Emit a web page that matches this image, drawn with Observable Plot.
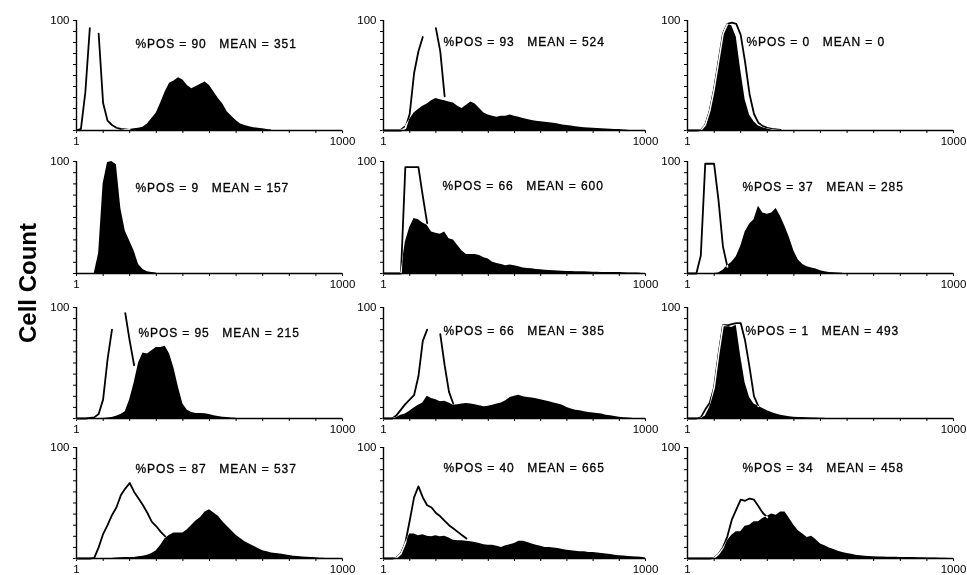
<!DOCTYPE html>
<html><head><meta charset="utf-8">
<script src="https://cdn.jsdelivr.net/npm/d3@7"></script>
<script src="https://cdn.jsdelivr.net/npm/@observablehq/plot@0.6"></script>
<style>
body{margin:0;background:#fff}
#c{position:relative;width:967px;height:575px;overflow:hidden;font-family:"Liberation Sans",Arial,sans-serif;background:#fff}
#c svg{position:absolute}
#ylab{position:absolute;left:28px;top:283px;transform:translate(-50%,-50%) rotate(-90deg);font-weight:bold;font-size:24px;white-space:nowrap;color:#000}
</style></head><body><div id="c"><div id="ylab">Cell Count</div></div>
<script>
// log-intensity bin centres (0.05-decade channels, 1 … 1000)
const bins = [1,1.122,1.259,1.413,1.585,1.778,1.995,2.239,2.512,2.818,3.162,3.548,3.981,4.467,5.012,5.623,6.31,7.079,7.943,8.913,
  10,11.22,12.59,14.13,15.85,17.78,19.95,22.39,25.12,28.18,31.62,35.48,39.81,44.67,50.12,56.23,63.1,70.79,79.43,89.13,
  100,112.2,125.9,141.3,158.5,177.8,199.5,223.9,251.2,281.8,316.2,354.8,398.1,446.7,501.2,562.3,631,707.9,794.3,891.3,1000];
const xTicks = [1,2,3.981,7.943,15.85,31.62,63.1,125.9,251.2,501.2,1000];
const yTicks = [0,10,20,30,40,50,60,70,80,90,100];
const posValues = ["90","93","0","9","66","37","95","66","1","87","40","34"];
const meanValues = ["351","524","0","157","600","285","215","385","493","537","665","458"];

// filled (black) histograms, cell count per bin
const fill1 = [0,0,0,0,0,0,0,0,0,0,0,1,1,1.5,2,3,6,11,16,25,35,43,45,48,46,41,38,40,42,44,41,35,29,24,17,13,9,6,4.5,3.5,2.5,2,1.5,1,0.5];
const fill2 = [0,0,0,0.3,1,4,10,16,19,22,24,27,29,28,27,26,25,22,20,23,26,24,20,16,14,13,12,13,13,14,13,12,11,10,9,8.5,8,7.5,7,6.5,6,5,4.5,4,3.5,3,2.5,2.2,2,1.8,1.5,1.4,1.2,1,0.8,0.5,0.3];
const fill3 = [0,0,0,0.3,5,18,38,63,88,97,95,85,55,28,14,8,4,2.5,1.5,1,0.5,0.3];
const fill4 = [0,0,0,0,0,18,80,99,100,97,58,38,29,20,8,3.5,1.5,1,0.5];
const fill5 = [0,0,0,0,1,28,41,49,48,45,43,37,36,35,37,31,30,25,20,17,17,17,16,14,13,10,9,8,7,7.5,7,6,5,4.5,4.2,3.5,3.3,3,2.7,2.4,2.2,2,1.8,1.8,1.6,1.5,1.5,1.4,1.2,1.1,1,1,0.9,0.8,0.8,0.6,0.5,0.5,0.4,0.2];
const fill6 = [0,0,0,0,0,0,0,0.5,3,7,10,15,24,37,44,48,60,54,53,54,58,51,42,32,20,12,8,6,5,4,2.4,1.5,1,0.7,0.5,0.3];
const fill7 = [0,0,0,0,0,0,0,0.5,1,2,3.5,6,17,32,50,59,58,61,64,64,65,58,45,28,13,7.5,5.5,4.5,4.5,4.3,3.5,2.5,1.7,1.2,0.8,0.5,0.2];
const fill8 = [0,0,0,1,3,4,6.5,9.5,12,14,20,18,17,15,15.5,14,12,12.5,13,13.5,13,12.5,11.5,10.5,11,12,13,14,16,19,20,21,19.5,19,18.5,17.7,17,16,15,14,13,12,10,8.5,7.5,7,6,5.5,5,4.5,4,3,2.4,1.8,1.2,0.7,0.4,0.2];
const fill9 = [0,0,0,0.2,2,10,28,58,84,83,82,84,56,32,19,13,11,9,7,5.5,4,3,2.2,1.6,1.2,1,0.8,0.6,0.5,0.4,0.3,0.2];
const fill10 = [0,0,0,0,0,0,0,0,0,0.5,0.6,0.8,1,1,1.5,2,3,4.5,7,12,18,21,23,23,23,26,30,34,37,42,44,41,38,33,29,25,21,18,15,13,11,9,7,6,5,4.5,4,3.3,2.7,2,1.7,1.4,1.1,0.8,0.6,0.3,0.2];
const fill11 = [0,0,0,0.8,4.5,14,22,22,20.5,21.5,20,19.5,20.5,19.5,20,18.5,16.5,16,16,15.5,15,14.5,13.5,12.5,12,12,11,10,11.5,12.5,13.5,15.5,15.5,14.5,13,12,11,10,10,9.5,9,8,7.5,7,6.5,6,6,5.5,5.5,5,4.5,4,3.6,3,2.5,2.2,1.9,1.6,1.3,1.1,0.5];
const fill12 = [0,0,0,0,0,0,0.5,4,9,16,21,24,24,29,30,33,33,36,38,40,39,42,42,36,30,25,22,19,20,17,13,11.5,9.5,8,6.5,5.3,4.5,3.8,3,2.4,2,1.8,1.5,1.4,1.3,1.2,1.2,1.1,1,0.9,0.8,0.8,0.7,0.6,0.5,0.4,0.4,0.3,0.2,0.1];

// open (control) histograms; null = pen off scale / hidden
const outline1 = [0,1.5,35,93,null,88,25,9,5,2.5,1.5,1,0.5];
const outline2 = [0,0,0,0,0,2,15,52,72,85,null,null,93,72,31];
const outline3 = [0,0,0,0.3,5,18,38,63,88,97,98,97,87,62,33,15,7,4,2.5,1.5,1,0.5];
const outline4 = [];
const outline5 = [0,0,0,0,0,95,95,95,95,69,45];
const outline6 = [0,0,0,16,98,98,98,65,24,6];
const outline7 = [0,0,0,0.5,1,4,17,53,80,null,null,95,70,48];
const outline8 = [0,0,0,3,8,13,17,21,38,70,80,null,null,76,48,24,13];
const outline9 = [0,0,0,1,8,14,28,58,84,84,85,86,86,70,46,20,11];
const outline10 = [0,0,0,0,0.5,10,22,30,39,46,57,63,68,60,54,48,41,33,29,24,20];
const outline11 = [0,0,0,0.8,4.5,14,34,55,65,55,48,46,41,38,34,30,27,24,21,18];
const outline12 = [0,0,0,0,0,0,0.5,4,10,20,35,44,53,52,54,53,47,41,37];

const fills = [fill1,fill2,fill3,fill4,fill5,fill6,fill7,fill8,fill9,fill10,fill11,fill12];
const outlines = [outline1,outline2,outline3,outline4,outline5,outline6,outline7,outline8,outline9,outline10,outline11,outline12];

// layout (pixels)
const colX0 = [76, 383, 687], colX1 = [342, 645, 953];
const rowY100 = [20, 161, 307, 447], rowY0 = [130, 273, 418, 558];
const textOff = [[59,19],[60,17],[59,17],[59,22],[59,20],[55,21],[62,21],[60,19],[58,19],[59,17],[60,16],[55,16]];
const ML = 34, MR = 26, MT = 8, MB = 22;
const host = document.getElementById("c");

const toRows = arr => arr.map((v, k) => ({x: bins[k], y: v == null ? NaN : v}));

for (let i = 0; i < 12; i++) {
  const r = Math.floor(i / 3), c = i % 3;
  const W = colX1[c] - colX0[c], H = rowY0[r] - rowY100[r];
  const label = "%POS = " + posValues[i] + "\u00a0\u00a0\u00a0MEAN = " + meanValues[i];
  const svg = Plot.plot({
    width: W + ML + MR, height: H + MT + MB,
    marginLeft: ML, marginRight: MR, marginTop: MT, marginBottom: MB,
    style: {background: "transparent", overflow: "visible", fontFamily: "'Liberation Sans', Arial, sans-serif", fontSize: "11.5px", color: "#000"},
    x: {type: "log", domain: [1, 1000], ticks: xTicks, tickSize: 3, tickPadding: 3, label: null,
        tickFormat: d => d === 1 ? "1" : d === 1000 ? "1000" : ""},
    y: {domain: [0, 100], ticks: yTicks, tickSize: 3, tickPadding: 4, label: null,
        tickFormat: d => d === 100 ? "100" : ""},
    marks: [
      Plot.frame({fill: "white", stroke: "none"}),
      Plot.areaY(toRows(fills[i]), {x: "x", y: "y", fill: "black"}),
      Plot.lineY(toRows(outlines[i]), {x: "x", y: "y", stroke: "white", strokeWidth: 1.8, mixBlendMode: "difference"}),
      Plot.ruleY([0], {stroke: "black", strokeWidth: 1.4}),
      Plot.ruleX([1], {stroke: "black", strokeWidth: 1.4}),
      Plot.text([label], {frameAnchor: "top-left", dx: textOff[i][0], dy: textOff[i][1], text: d => d,
        textAnchor: "start", fontSize: 12, fill: "black", stroke: "black", strokeWidth: 0.3})
    ]
  });
  svg.querySelectorAll("text").forEach(t => { if (t.textContent.startsWith("%POS")) t.style.letterSpacing = "0.9px"; });
  svg.style.left = (colX0[c] - ML) + "px";
  svg.style.top = (rowY100[r] - MT) + "px";
  host.appendChild(svg);
}
</script></body></html>
